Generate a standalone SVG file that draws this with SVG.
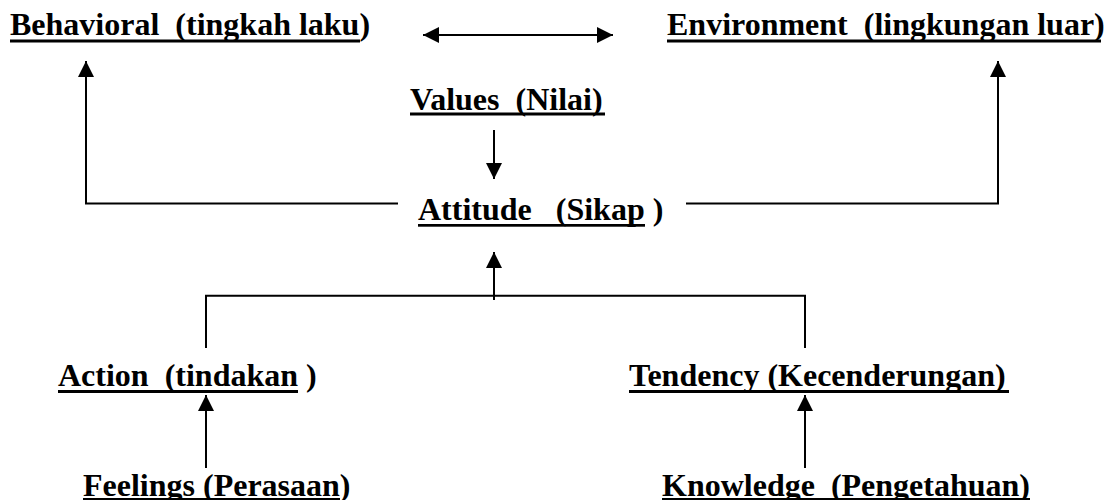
<svg xmlns="http://www.w3.org/2000/svg" width="1113" height="500" viewBox="0 0 1113 500">
<style>
text{font-family:"Liberation Serif","Times New Roman",serif;font-weight:bold;font-size:32px;fill:#000;white-space:pre}
.ul{fill:#000}
.c{stroke:#000;stroke-width:2;fill:none}
</style>
<defs>
<marker id="ah" markerUnits="userSpaceOnUse" markerWidth="16" markerHeight="16" refX="16" refY="8" orient="auto-start-reverse" viewBox="0 0 16 16">
<path d="M0,0 L16,8 L0,16 Z" fill="#000"/>
</marker>
</defs>
<rect width="1113" height="500" fill="#fff"/>
<g id="behavioral"><text x="10" y="35" xml:space="preserve">Behavioral  (tingkah laku)</text><rect class="ul" x="10" y="39.5" width="350" height="3"/></g>
<g id="environment"><text x="667" y="35" xml:space="preserve">Environment  (lingkungan luar)</text><rect class="ul" x="667" y="39.5" width="434" height="3"/></g>
<g id="values"><text x="410" y="110" xml:space="preserve">Values  (Nilai)</text><rect class="ul" x="410" y="112.5" width="195" height="3"/></g>
<g id="attitude"><text x="418" y="220" xml:space="preserve">Attitude   (Sikap )</text><rect class="ul" x="418" y="224" width="227" height="2.7"/></g>
<g id="action"><text x="58" y="386" xml:space="preserve">Action  (tindakan )</text><rect class="ul" x="58" y="390" width="240" height="3"/></g>
<g id="tendency"><text x="629" y="386" xml:space="preserve">Tendency (Kecenderungan)</text><rect class="ul" x="629" y="390" width="380" height="3"/></g>
<g id="feelings"><text x="83" y="496" xml:space="preserve">Feelings (Perasaan)</text><rect class="ul" x="83" y="498" width="257" height="2.5"/></g>
<g id="knowledge"><text x="662" y="496" xml:space="preserve">Knowledge  (Pengetahuan)</text><rect class="ul" x="662" y="498" width="368" height="2.5"/></g>
<g id="connectors">
<line class="c" x1="423" y1="35" x2="613" y2="35" marker-start="url(#ah)" marker-end="url(#ah)"/>
<polyline class="c" points="398,203.5 86,203.5 86,61" marker-end="url(#ah)"/>
<polyline class="c" points="686,203.5 998,203.5 998,61" marker-end="url(#ah)"/>
<line class="c" x1="494" y1="130" x2="494" y2="179" marker-end="url(#ah)"/>
<line class="c" x1="494" y1="300" x2="494" y2="252" marker-end="url(#ah)"/>
<polyline class="c" points="206,348 206,295.7 805,295.7 805,348"/>
<line class="c" x1="206" y1="468" x2="206" y2="395" marker-end="url(#ah)"/>
<line class="c" x1="805" y1="468" x2="805" y2="395" marker-end="url(#ah)"/>
</g>
</svg>
